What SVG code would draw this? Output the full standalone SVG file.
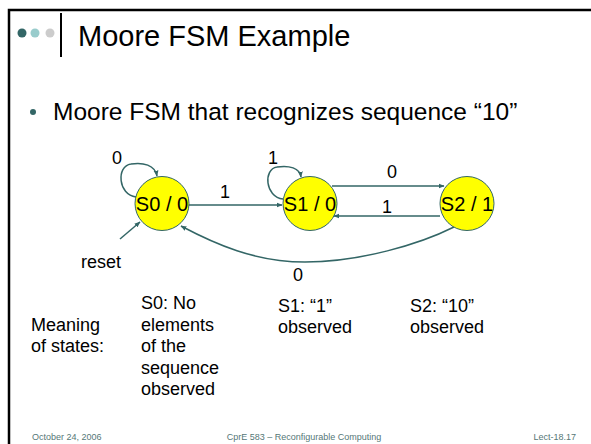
<svg xmlns="http://www.w3.org/2000/svg" width="591" height="444" viewBox="0 0 591 444">
<defs>
<marker id="ah" viewBox="0 0 10 10" refX="9" refY="5" markerWidth="6" markerHeight="6" orient="auto" markerUnits="userSpaceOnUse">
<path d="M0,1 L10,5 L0,9 z" fill="#336666"/>
</marker>
</defs>
<style>
text{font-family:"Liberation Sans",Arial,sans-serif;fill:#000}
.st{font-size:20px;text-anchor:middle}
.lb{font-size:18px;text-anchor:middle}
.tx{font-size:18px}
.ft{font-size:9px;fill:#557777}
.state{fill:#ffff00;stroke:#336666;stroke-width:1}
.edge{fill:none;stroke:#336666;stroke-width:1.5;marker-end:url(#ah)}
</style>
<rect x="0" y="0" width="591" height="444" fill="#fff"/>
<g id="frame">
<path d="M9,444 L9,10 L591,10" fill="none" stroke="#000" stroke-width="2.5"/>
<circle cx="22" cy="33" r="4.5" fill="#336666"/>
<circle cx="35" cy="33" r="4.5" fill="#99cccc"/>
<circle cx="50" cy="33" r="4.5" fill="#cccccc"/>
<line x1="61" y1="13" x2="61" y2="57" stroke="#000" stroke-width="2"/>
<text x="78" y="46" font-size="29">Moore FSM Example</text>
<circle cx="33" cy="112" r="3" fill="#336666"/>
<text x="53" y="120" font-size="24.5">Moore FSM that recognizes sequence “10”</text>
</g>
<g id="connectors">
<path class="edge" d="M136,197 C118,195 116,166 131,164 C143,162 155,165 157,176"/>
<path class="edge" d="M189,205 L282,205"/>
<path class="edge" d="M283,199 C265,197 263,169 277,167 C289,165 300,168 301,177"/>
<path class="edge" d="M332,186 L444,186"/>
<path class="edge" d="M440,216 L334,216"/>
<path class="edge" d="M454,227 C420,244 360,262 305,262 C255,262 215,244 181,226"/>
<path class="edge" d="M120,239 L140,222"/>
</g>
<g id="edge-labels">
<text class="lb" x="117" y="164">0</text>
<text class="lb" x="225" y="198">1</text>
<text class="lb" x="273" y="164">1</text>
<text class="lb" x="392" y="178">0</text>
<text class="lb" x="387" y="213">1</text>
<text class="lb" x="298" y="281">0</text>
<text class="tx" x="81" y="268">reset</text>
</g>
<g id="S0">
<circle class="state" cx="162" cy="203.5" r="27"/>
<text class="st" x="162" y="211">S0 / 0</text>
</g>
<g id="S1">
<circle class="state" cx="310" cy="203.5" r="27"/>
<text class="st" x="310" y="211">S1 / 0</text>
</g>
<g id="S2">
<circle class="state" cx="467" cy="203.5" r="27"/>
<text class="st" x="467" y="211">S2 / 1</text>
</g>
<g id="meanings">
<text class="tx" x="31" y="331">Meaning</text>
<text class="tx" x="31" y="352">of states:</text>
<text class="tx" x="141" y="309">S0: No</text>
<text class="tx" x="141" y="330.5">elements</text>
<text class="tx" x="141" y="352">of the</text>
<text class="tx" x="141" y="373.5">sequence</text>
<text class="tx" x="141" y="395">observed</text>
<text class="tx" x="278" y="312">S1: “1”</text>
<text class="tx" x="278" y="333">observed</text>
<text class="tx" x="410" y="312">S2: “10”</text>
<text class="tx" x="410" y="333">observed</text>
</g>
<g id="footer">
<text class="ft" x="32" y="440">October 24, 2006</text>
<text class="ft" x="304" y="440" text-anchor="middle">CprE 583 – Reconfigurable Computing</text>
<text class="ft" x="576" y="440" text-anchor="end">Lect-18.17</text>
</g>
</svg>
